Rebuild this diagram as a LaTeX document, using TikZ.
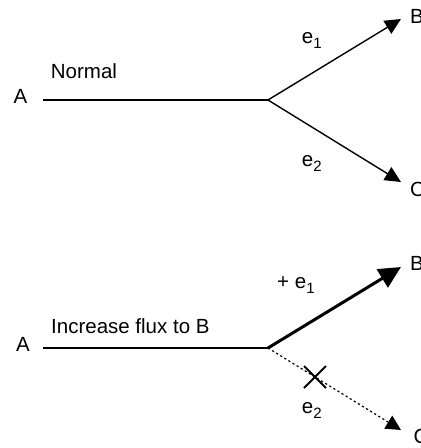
\documentclass[tikz,border=0pt]{standalone}
\usepackage{fontspec}
\setmainfont{Liberation Sans}
\usetikzlibrary{arrows.meta,shapes.misc}
\newcommand{\sub}[1]{\raisebox{-5pt}{\fontsize{15}{17}\selectfont #1}}
\begin{document}
\begin{tikzpicture}[x=1pt,y=-1pt,
  lbl/.style={anchor=base west,inner sep=0pt,font=\fontsize{20.5}{24}\selectfont},
  trunk/.style={line width=2.6pt},
  branch/.style={line width=1.4pt,-{Triangle[length=16pt,width=15pt]}},
  boosted/.style={line width=3pt,-{Triangle[length=22pt,width=21pt]}},
  blocked/.style={line width=1.2pt,dash pattern=on 2.2pt off 2.6pt,-{Triangle[length=15pt,width=15pt]}},
  stopmark/.style={cross out,draw,line width=2pt,minimum size=20pt,inner sep=0pt}]
\useasboundingbox (0,0) rectangle (421,448);

% normal branching
\node[lbl] (A1) at (13.3,103.3) {A};
\node[lbl] (B1) at (410,23.3) {B};
\node[lbl] (C1) at (410,196.7) {C};
\node[lbl] (N1) at (50.7,78.3) {Normal};
\node[lbl] (e11) at (301.7,43.5) {e\sub{1}};
\node[lbl] (e21) at (301.7,166.7) {e\sub{2}};
\coordinate (J1) at (268,100);
\draw[trunk] ([xshift=16pt,yshift=3.3pt]A1.base east) -- (J1);
\draw[branch] (J1) -- ([xshift=-9pt,yshift=4.3pt]B1.base west);
\draw[branch] (J1) -- ([xshift=-9pt,yshift=14.7pt]C1.base west);

% flux increased towards B
\node[lbl] (A2) at (16,351) {A};
\node[lbl] (B2) at (410,270) {B};
\node[lbl] (C2) at (413.3,443) {C};
\node[lbl] (N2) at (51,333.3) {Increase flux to B};
\node[lbl] (e12) at (277,288.3) {+ e\sub{1}};
\node[lbl] (e22) at (301.7,413.3) {e\sub{2}};
\coordinate (J2) at (268,348);
\draw[trunk] ([xshift=13pt,yshift=3pt]A2.base east) -- (J2);
\draw[boosted] (J2) -- ([xshift=-9pt,yshift=3pt]B2.base west);
\draw[blocked] (J2) -- ([xshift=-12.3pt,yshift=13pt]C2.base west);
\node[stopmark] (X) at (315,377) {};
\end{tikzpicture}
\end{document}
